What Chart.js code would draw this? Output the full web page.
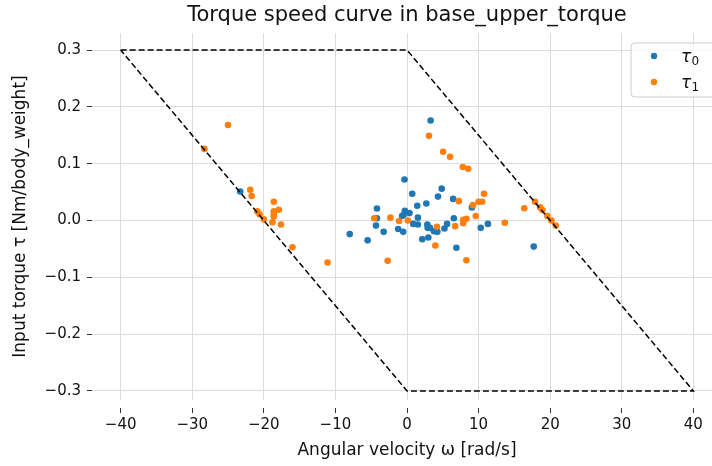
<!DOCTYPE html>
<html>
<head>
<meta charset="UTF-8">
<title>Torque speed curve</title>
<script src="https://cdn.jsdelivr.net/npm/chart.js@4"></script>
<style>
  body { margin: 0; overflow: hidden; background: #fff; }
</style>
</head>
<body>
<!-- wider than the window: the right edge of the plot is cut off like in the original figure -->
<canvas id="myChart" width="726" height="466"></canvas>
<script>
// tau_0 samples (angular velocity, torque)
var omega0 = [3.3, -0.35, 0.73, 4.85, 4.33, 6.44, 1.43, 2.7, -4.2, -0.3, 0.35, -0.68, -0.45, -4.2, 1.52, 6.54, 9.07,
              -4.33, -1.24, -0.53, -3.26, -8.0, -5.5, 0.87, 1.52, 2.84, 2.88, 3.2, 3.77, 4.24, 2.98, 2.13, 5.23, 5.6,
              6.9, 10.3, 11.3, -23.3, 17.7]
var tau0 = [0.176, 0.072, 0.047, 0.056, 0.042, 0.038, 0.026, 0.030, 0.021, 0.017, 0.013, 0.008, 0.010, 0.004, 0.005, 0.004, 0.023,
            -0.009, -0.015, -0.020, -0.020, -0.024, -0.035, -0.006, -0.007, -0.007, -0.013, -0.013, -0.019, -0.020, -0.030, -0.033, -0.014, -0.006,
            -0.048, -0.013, -0.006, 0.051, -0.046]

// tau_1 samples
var omega1 = [-25.0, -28.3, -21.9, -21.7, -18.6, -20.9, -20.6, -18.6, -18.6, -18.6, -17.9, -20.0, -18.8, -17.6, -16.0, -11.1,
              3.07, 5.04, 6.02, 7.8, 8.55, 10.76, 7.24, 9.2, 10.0, 10.5, 9.6, -4.57, -2.32, -1.1, 0.12, 7.85, 8.3, 7.85,
              6.72, 4.19, 3.96, 8.3, -2.7, 13.66,
              16.38, 17.88, 18.59, 18.91, 19.61, 20.18, 20.78]
var tau1 = [0.168, 0.126, 0.054, 0.043, 0.033, 0.016, 0.011, 0.016, 0.011, 0.007, 0.019, 0.002, -0.003, -0.007, -0.047, -0.074,
            0.149, 0.121, 0.112, 0.094, 0.091, 0.047, 0.034, 0.027, 0.033, 0.033, 0.008, 0.004, 0.005, -0.001, 0.0, 0.001, 0.003, -0.005,
            -0.010, -0.011, -0.044, -0.070, -0.071, -0.004,
            0.0215, 0.033, 0.023, 0.0185, 0.008, 0.0, -0.009]

// torque speed envelope
var envOmega = [-40, 0, 40, 0, -40]
var envTau = [0.3, 0.3, -0.3, -0.3, 0.3]

var xTicks = [-40, -30, -20, -10, 0, 10, 20, 30, 40]
var yTicks = [-0.3, -0.2, -0.1, 0.0, 0.1, 0.2, 0.3]

function pts(xs, ys) {
    return xs.map(function(x, i) { return {x: x, y: ys[i]} })
}
function minus(s) { return s.replace('-', '\u2212') }

var FONT = "'DejaVu Sans', sans-serif"
Chart.defaults.font.family = FONT
Chart.defaults.color = '#111'

var legendBox = {
    id: 'legendBox',
    afterDraw: function(chart) {
        var c = chart.ctx
        c.save()
        c.beginPath()
        c.roundRect(631, 43, 120, 54, 4)
        c.fillStyle = 'rgba(255,255,255,0.8)'
        c.fill()
        c.strokeStyle = '#cccccc'
        c.lineWidth = 1
        c.stroke()
        var items = [['#1f77b4', '0', 56], ['#ff7f0e', '1', 82]]
        items.forEach(function(it) {
            c.beginPath()
            c.arc(654, it[2], 3.2, 0, Math.PI * 2)
            c.fillStyle = it[0]
            c.fill()
            c.fillStyle = '#111'
            c.textBaseline = 'alphabetic'
            c.font = 'italic 17px ' + FONT
            c.fillText('\u03c4', 681, it[2] + 6)
            c.font = '12px ' + FONT
            c.fillText(it[1], 691.5, it[2] + 9)
        })
        c.restore()
    }
}

var ctx = document.getElementById('myChart').getContext('2d')
var chart = new Chart(ctx, {
    type: 'scatter',
    data: {
        datasets: [{
            label: 'envelope',
            data: pts(envOmega, envTau),
            showLine: true,
            borderColor: '#000',
            borderWidth: 1.5,
            borderDash: [6, 3],
            pointRadius: 0,
            fill: false,
            order: 0
        }, {
            label: 'tau0',
            data: pts(omega0, tau0),
            backgroundColor: '#1f77b4',
            borderColor: '#1f77b4',
            borderWidth: 0,
            pointRadius: 3.3,
            order: 2
        }, {
            label: 'tau1',
            data: pts(omega1, tau1),
            backgroundColor: '#ff7f0e',
            borderColor: '#ff7f0e',
            borderWidth: 0,
            pointRadius: 3.3,
            order: 1
        }]
    },
    options: {
        responsive: false,
        animation: false,
        events: [],
        layout: { padding: 0 },
        plugins: {
            legend: { display: false },
            tooltip: { enabled: false },
            title: {
                display: true,
                text: 'Torque speed curve in base_upper_torque',
                fullSize: false,
                color: '#111',
                font: { size: 21, weight: 'normal' },
                padding: { top: 3, bottom: 4.8 }
            }
        },
        scales: {
            x: {
                type: 'linear',
                min: -44,
                max: 44,
                afterBuildTicks: function(s) { s.ticks = xTicks.map(function(v) { return {value: v} }) },
                afterFit: function(s) { s.height = 66 },
                border: { display: false },
                // tick marks sit a little below the plot area
                grid: { color: '#dcdcdc', lineWidth: 1, tickColor: '#333', tickLength: 13, tickWidth: 1,
                        tickBorderDash: [0, 8, 5, 60] },
                ticks: { font: { size: 15 }, padding: 3, maxRotation: 0,
                         callback: function(v) { return minus(String(v)) } },
                title: { display: true, text: 'Angular velocity \u03c9 [rad/s]', font: { size: 17 },
                         padding: { top: 0, bottom: 5 } }
            },
            y: {
                type: 'linear',
                min: -0.316,
                max: 0.33,
                afterBuildTicks: function(s) { s.ticks = yTicks.map(function(v) { return {value: v} }) },
                afterFit: function(s) { s.width = 92 },
                border: { display: false },
                grid: { color: '#dcdcdc', lineWidth: 1, tickColor: '#333', tickLength: 5, tickWidth: 1 },
                ticks: { font: { size: 15 }, padding: 6,
                         callback: function(v) { return minus(v.toFixed(1)) } },
                title: { display: true, text: 'Input torque \u03c4 [Nm/body_weight]', font: { size: 17 },
                         padding: { top: 10.5, bottom: 0 } }
            }
        }
    },
    plugins: [legendBox]
})
</script>
</body>
</html>
